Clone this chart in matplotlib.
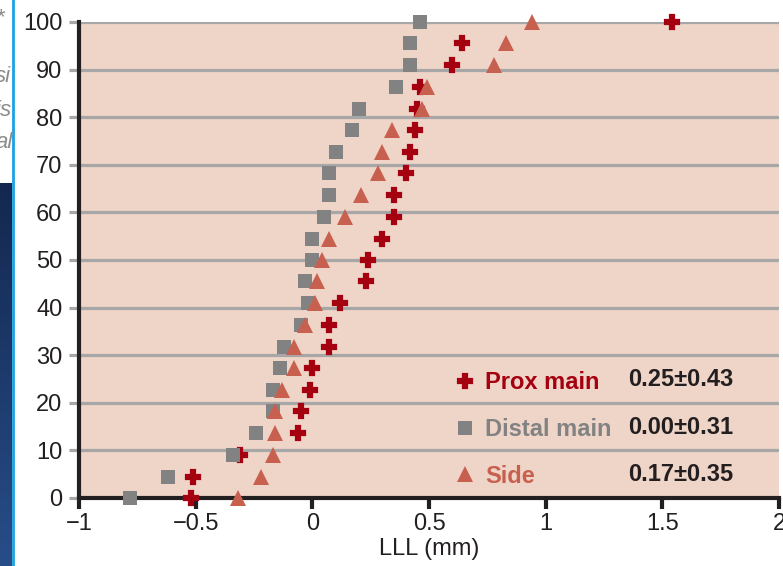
import numpy as np
import matplotlib.pyplot as plt
from matplotlib.lines import Line2D
from matplotlib.colors import LinearSegmentedColormap

plt.rcParams['font.family'] = ['Liberation Sans', 'DejaVu Sans']

# cumulative percent (y) and late lumen loss per segment (x, mm)
percent = [0, 4.5, 9.1, 13.6, 18.2, 22.7, 27.3, 31.8, 36.4, 40.9, 45.5, 50,
           54.5, 59.1, 63.6, 68.2, 72.7, 77.3, 81.8, 86.4, 90.9, 95.5, 100]
prox_main = [-0.52, -0.51, -0.31, -0.06, -0.05, -0.01, 0.00, 0.07, 0.07, 0.12, 0.23, 0.24,
             0.30, 0.35, 0.35, 0.40, 0.42, 0.44, 0.45, 0.46, 0.60, 0.64, 1.54]
distal_main = [-0.78, -0.62, -0.34, -0.24, -0.17, -0.17, -0.14, -0.12, -0.05, -0.02, -0.03, 0.00,
               0.00, 0.05, 0.07, 0.07, 0.10, 0.17, 0.20, 0.36, 0.42, 0.42, 0.46]
side = [-0.32, -0.22, -0.17, -0.16, -0.16, -0.13, -0.08, -0.08, -0.03, 0.01, 0.02, 0.04,
        0.07, 0.14, 0.21, 0.28, 0.30, 0.34, 0.47, 0.49, 0.78, 0.83, 0.94]

names = ['Prox main', 'Distal main', 'Side']
stats = ['0.25\u00b10.43', '0.00\u00b10.31', '0.17\u00b10.35']
colors = ['#a50010', '#828282', '#c8604f']
markers = ['P', 's', '^']
msizes = [9.5, 10.5, 11.5]
medge = [1.6, 0, 0]

fig = plt.figure(figsize=(7.83, 5.66), dpi=100)
ax = fig.add_axes([79/783, 1-498/566, 700/783, 476/566])
ax.set_facecolor('#efd4c8')

for xs, c, m, s, e in zip([prox_main, distal_main, side], colors, markers, msizes, medge):
    ax.plot(xs, percent, ls='none', marker=m, ms=s, color=c, mec=c, mew=e,
            clip_on=False, zorder=3)

ax.set_xlim(-1, 2)
ax.set_ylim(0, 100)
ax.set_xticks([-1, -0.5, 0, 0.5, 1, 1.5, 2])
ax.set_xticklabels(['\u22121', '\u22120.5', '0', '0.5', '1', '1.5', '2'])
ax.set_yticks(range(0, 101, 10))
ax.yaxis.grid(True, color='#a7a7a7', lw=2.3)
ax.set_axisbelow(True)
for sp in ['top', 'right']:
    ax.spines[sp].set_visible(False)
for sp in ['left', 'bottom']:
    ax.spines[sp].set_linewidth(3)
    ax.spines[sp].set_color('#231f20')
ax.tick_params(axis='y', length=7, width=2.3, color='#a7a7a7', labelsize=17,
               labelcolor='#231f20', pad=5)
ax.tick_params(axis='x', length=8, width=3, color='#231f20', labelsize=17,
               labelcolor='#231f20', pad=3)
ax.set_xlabel('LLL (mm)', fontsize=17, color='#231f20', labelpad=2)

handles = [Line2D([], [], ls='none', marker=m, ms=s, color=c, mec=c, mew=e)
           for m, s, c, e in zip(markers, msizes, colors, medge)]
leg = ax.legend(handles, names, loc='lower left', bbox_to_anchor=(0.538, 0.022),
                frameon=False, handlelength=0.8, handletextpad=0.45,
                labelspacing=1.0, borderpad=0, borderaxespad=0,
                prop={'size': 17, 'weight': 'bold'}, labelcolor=colors)
for i, st in enumerate(stats):
    ax.text(0.784, 0.05 + (2 - i) * 0.099, st, transform=ax.transAxes,
            fontsize=17, fontweight='bold', color='#231f20', va='center')

# strip of neighbouring page on the left
grad = fig.add_axes([0, 0, 12/783, (566-183)/566])
grad.imshow(np.linspace(0, 1, 100).reshape(-1, 1), aspect='auto',
            cmap=LinearSegmentedColormap.from_list('nv', ['#14284f', '#274d88']))
grad.axis('off')
fig.add_artist(Line2D([12.5/783, 12.5/783], [0, 1], color='#1da1e2', lw=2))
for txt, yy in [('*', 18), ('si', 77), ('is', 110), ('al', 143)]:
    fig.text(-0.006, 1 - yy/566, txt, fontsize=16, style='italic', color='#8c8c8c',
             va='center')

fig.savefig('out.png', dpi=100)
